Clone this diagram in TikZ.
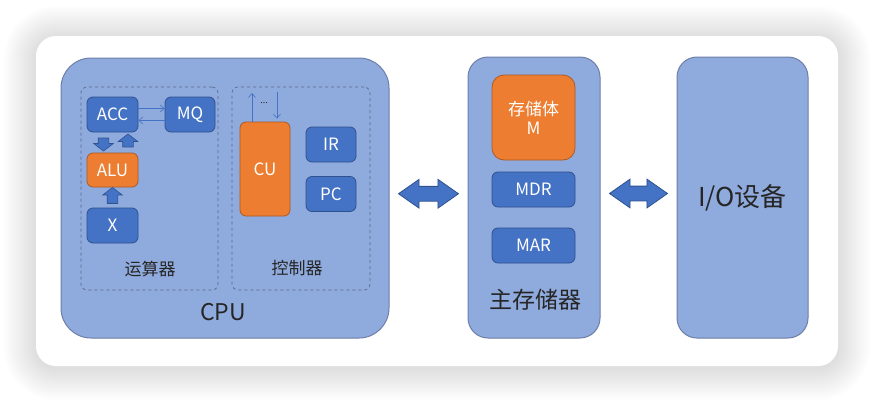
\documentclass[tikz,border=0pt]{standalone}
\usepackage{fontspec}
\setmainfont{Noto Sans CJK SC}
\usetikzlibrary{shapes.arrows,calc,arrows.meta}

\definecolor{partblue}{HTML}{8FAADC}
\definecolor{partline}{HTML}{6D7FA8}
\definecolor{regblue}{HTML}{4472C4}
\definecolor{regline}{HTML}{2F528F}
\definecolor{unitorange}{HTML}{ED7D31}
\definecolor{unitline}{HTML}{AE5A21}
\definecolor{dashline}{HTML}{5B6A8C}
\definecolor{tagtext}{HTML}{262626}

\tikzset{
	part/.style={draw=partline, fill=partblue, line width=1pt, inner sep=0pt},
	reg/.style={draw=regline, fill=regblue, line width=0.8pt, rounded corners=6pt, text=white,
		font=\fontsize{17}{19}\selectfont, minimum width=51pt, minimum height=35pt, inner sep=0pt},
	unit/.style={reg, draw=unitline, fill=unitorange},
	group/.style={draw=dashline, dashed, line width=0.7pt, rounded corners=6pt, inner sep=0pt},
	tag/.style={text=tagtext, font=\fontsize{17}{19}\selectfont},
	bigtag/.style={text=tagtext, font=\fontsize{23}{25}\selectfont},
	wire/.style={-{Straight Barb[length=4pt, width=7pt]}, regblue, line width=0.6pt},
	flow/.style={single arrow, draw=regline, fill=regblue, line width=0.6pt, inner xsep=0pt, inner ysep=5pt,
		single arrow head extend=4.5pt, single arrow tip angle=105},
	bus/.style={double arrow, draw=regline, fill=regblue, line width=0.8pt, inner xsep=0pt, inner ysep=7pt,
		double arrow head extend=7pt, double arrow tip angle=70}
}

\begin{document}
\begin{tikzpicture}[x=1pt, y=-1pt]
	\useasboundingbox (0,0) rectangle (874,402);
	
	% card with soft shadow
	\foreach \s in {1, ..., 16} {
		\pgfmathsetmacro\r{20+2*\s}
		\fill [black, opacity=0.008, rounded corners=\r pt] (36-2*\s, 38-2*\s) rectangle (838+2*\s, 368+2*\s);
	}
	\fill [white, rounded corners=20pt] (36, 36) rectangle (838, 366);
	
	% CPU
	\node [part, rounded corners=30pt, minimum width=328pt, minimum height=280pt] (cpu) at (225, 198) {};
	\node [group, minimum width=137pt, minimum height=203pt] (alugroup) at (149.5, 188.5) {};
	\node [group, minimum width=138pt, minimum height=203pt] (cugroup) at (301, 188.5) {};
	
	\node [reg] (acc) at (112.5, 114.5) {ACC};
	\node [reg, minimum width=50pt] (mq) at (190, 114.5) {MQ};
	\node [unit, minimum height=34pt] (alu) at (112.5, 170) {ALU};
	\node [reg] (x) at (112.5, 225.5) {X};
	
	\draw [wire] ([yshift=6pt]acc.east) -- ([yshift=6pt]mq.west);
	\draw [wire] ([yshift=-6pt]mq.west) -- ([yshift=-6pt]acc.east);
	
	\node [flow, rotate=-90, minimum height=13pt] (accalu) at ($(acc.south)!0.5!(alu.north) + (-9, 0)$) {};
	\node [flow, rotate=90, minimum height=13pt] (aluacc) at ($(acc.south)!0.5!(alu.north) + (15.5, 0)$) {};
	\node [flow, rotate=90, minimum height=16pt] (xalu) at ($(x.north)!0.5!(alu.south)$) {};
	
	\node [tag] (alutag) at (150, 269) {运算器};
	
	\node [unit, minimum width=50pt, minimum height=94pt] (cu) at (265, 169) {CU};
	\node [reg, minimum width=50pt] (ir) at (331, 144.5) {IR};
	\node [reg, minimum width=50pt] (pc) at (331, 194) {PC};
	
	\coordinate (cuout) at (252, 93);
	\coordinate (cuin) at (277, 92);
	\draw [wire] (cu.north -| cuout) -- (cuout);
	\draw [wire] (cuin) -- ([yshift=3pt]cu.north -| cuin);
	\node [text=tagtext, font=\fontsize{9}{9}\selectfont] (dots) at (264, 103) {...};
	
	\node [tag] (cutag) at (297, 268) {控制器};
	\node [bigtag] (cputag) at (223, 312) {CPU};
	
	% main memory
	\node [part, rounded corners=20pt, minimum width=132pt, minimum height=281pt] (mem) at (534, 197.5) {};
	\node [unit, rounded corners=12pt, minimum width=83pt, minimum height=85pt, align=center] (m) at (533.5, 117.5) {存储体\\M};
	\node [reg, minimum width=83pt] (mdr) at (533.5, 189.5) {MDR};
	\node [reg, minimum width=83pt] (mar) at (533.5, 245.5) {MAR};
	\node [bigtag] (memtag) at (535, 300) {主存储器};
	
	% I/O
	\node [part, rounded corners=20pt, minimum width=131pt, minimum height=281pt,
		text=tagtext, font=\fontsize{26}{28}\selectfont] (io) at (742.5, 197.5) {I/O设备};
	
	% buses
	\node [bus, minimum height=60pt, yshift=4pt] (cpubus) at ($(cpu.east)!0.5!(mem.west)$) {};
	\node [bus, minimum height=58pt, yshift=4pt] (iobus) at ($(mem.east)!0.5!(io.west)$) {};
\end{tikzpicture}
\end{document}
